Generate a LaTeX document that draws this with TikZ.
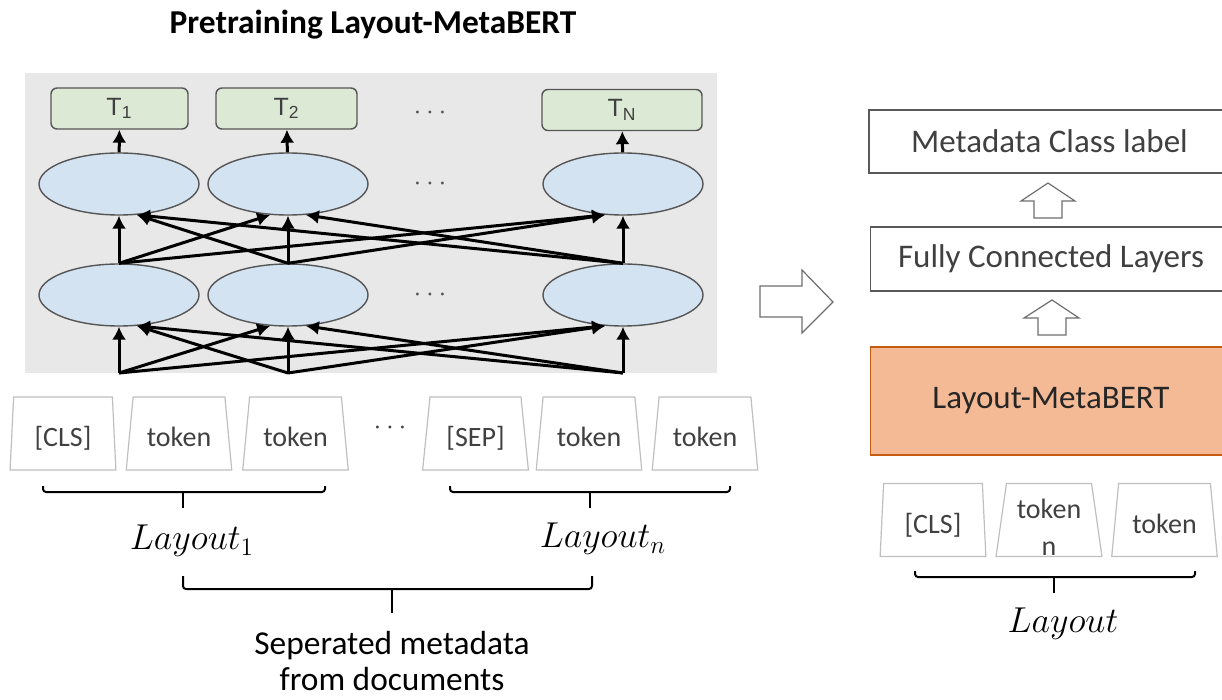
\RequirePackage{fix-cm}
\documentclass[tikz,border=0pt]{standalone}
\usepackage{fontspec}
\setmainfont{Carlito}
\newfontfamily\arialfont{Liberation Sans}
\usetikzlibrary{shapes.geometric,arrows.meta,positioning}

\definecolor{bggray}{RGB}{232,232,232}
\definecolor{outgreen}{RGB}{220,233,213}
\definecolor{encblue}{RGB}{212,227,242}
\definecolor{nodeedge}{RGB}{85,85,85}
\definecolor{tokenedge}{RGB}{191,191,191}
\definecolor{textgray}{RGB}{64,64,64}
\definecolor{boxedge}{RGB}{89,89,89}
\definecolor{bertfill}{RGB}{244,186,149}
\definecolor{bertedge}{RGB}{197,90,17}
\definecolor{hollowgray}{RGB}{110,110,110}

\begin{document}
\begin{tikzpicture}[x=0.5pt, y=-0.5pt, >={Latex[length=6.5pt,width=7pt]},
    out node/.style={rectangle, rounded corners=3pt, draw=nodeedge, fill=outgreen, line width=0.7pt,
      minimum width=68.5pt, minimum height=20.5pt, text=textgray, font=\arialfont\fontsize{12.5}{14}\selectfont},
    enc node/.style={ellipse, draw=nodeedge, fill=encblue, line width=0.7pt,
      minimum width=80pt, minimum height=31pt},
    link/.style={->, line width=1.5pt},
    dots/.style={text=nodeedge, font=\fontsize{14}{16}\selectfont},
    tok/.style={trapezium, trapezium stretches=true, trapezium angle=83, draw=tokenedge, line width=0.6pt,
      minimum width=53pt, minimum height=36.5pt, text=textgray, align=center,
      font=\fontsize{14}{18.5}\selectfont},
    tok1/.style={tok, text height=15pt, text depth=2pt},
    cls/.style={tok1, trapezium angle=87},
    layer box/.style={rectangle, draw=boxedge, line width=0.6pt, minimum width=180.5pt,
      minimum height=31.5pt, text=textgray, font=\fontsize{16.5}{20}\selectfont},
    brace/.style={line width=1pt, rounded corners=1.5pt},
    hollow/.style={draw=hollowgray, line width=0.6pt, fill=white},
    math label/.style={font=\fontsize{18}{21}\selectfont}]

  \useasboundingbox (0,0) rectangle (1222,700);

  % pretraining network
  \node[font=\bfseries\fontsize{16.7}{19}\selectfont, anchor=base] (title) at (373,34) {Pretraining Layout-MetaBERT};
  \fill[bggray] (25,73) rectangle (717,373);

  \node[out node] (t1) at (119.5,108.5) {T\textsubscript{1}};
  \node[out node, minimum width=70.5pt] (t2) at (286.5,108.5) {T\textsubscript{2}};
  \node[out node, minimum width=80pt] (tn) at (622,110) {T\textsubscript{N}};

  \node[enc node] (u1) at (119,184) {};
  \node[enc node] (u2) at (288,184) {};
  \node[enc node] (un) at (623,184) {};
  \node[enc node] (l1) at (119,295) {};
  \node[enc node] (l2) at (288,295) {};
  \node[enc node] (ln) at (623,295) {};

  \node[dots] (d1) at (430,113) {$\cdots$};
  \node[dots] (d2) at (430,184) {$\cdots$};
  \node[dots] (d3) at (430,295) {$\cdots$};

  \coordinate (b1) at (119,373);
  \coordinate (b2) at (288,373);
  \coordinate (bn) at (623,373);

  \path[link]
    (u1) edge (t1)
    (u2) edge (t2)
    (un) edge (tn)
    (l1.north) edge (u1.south)
    (l2.north) edge (u1.-60)
    (ln.north) edge (u1.-60)
    (l1.north) edge (u2.-120)
    (l2.north) edge (u2.south)
    (ln.north) edge (u2.-60)
    (l1.north) edge (un.-120)
    (l2.north) edge (un.-120)
    (ln.north) edge (un.south)
    (b1) edge (l1.south)
    (b2) edge (l1.-60)
    (bn) edge (l1.-60)
    (b1) edge (l2.-120)
    (b2) edge (l2.south)
    (bn) edge (l2.-60)
    (b1) edge (ln.-120)
    (b2) edge (ln.-120)
    (bn) edge (ln.south);

  % input tokens
  \node[cls] (c1) at (63,433.5) {[CLS]};
  \node[tok1] (k2) at (179,433.5) {token};
  \node[tok1] (k3) at (295.5,433.5) {token};
  \node[dots, text=textgray] (d4) at (390,428) {$\cdots$};
  \node[tok1] (s1) at (475.5,433.5) {[SEP]};
  \node[tok1] (k5) at (589,433.5) {token};
  \node[tok1] (k6) at (705,433.5) {token};

  \draw[brace] (43,486) -- (43,492) -- (325,492) -- (325,486);
  \draw[brace] (183,492) -- (183,508);
  \draw[brace] (450,486) -- (450,492) -- (730,492) -- (730,486);
  \draw[brace] (590,492) -- (590,508);
  \node[math label] (lay1) at (192,541) {$Layout_1$};
  \node[math label] (layn) at (603,539) {$Layout_n$};

  \draw[brace] (183,576) -- (183,589) -- (592,589) -- (592,576);
  \draw[brace] (392,589) -- (392,613);
  \node[align=center, font=\fontsize{16.7}{18}\selectfont] (sep) at (392,661) {Seperated metadata\\from documents};

  % fine-tuning
  \draw[hollow] (760,286) -- (802,286) -- (802,270) -- (833,302) -- (802,333) -- (802,317) -- (760,317) -- cycle;

  \node[layer box] (meta) at (1049.5,141.5) {Metadata Class label};
  \node[layer box, minimum height=32pt] (fc) at (1051,259) {Fully Connected Layers};
  \node[layer box, minimum height=54pt, fill=bertfill, draw=bertedge, text=black!85] (bert) at (1051,401) {Layout-MetaBERT};

  \draw[hollow] (1034,218) -- (1034,201) -- (1021,201) -- (1048,183) -- (1075,201) -- (1062,201) -- (1062,218) -- cycle;
  \draw[hollow] (1038,335) -- (1038,318) -- (1024,318) -- (1052,300) -- (1079,318) -- (1066,318) -- (1066,335) -- cycle;

  \node[cls] (rc) at (933,520) {[CLS]};
  \node[tok, label={[align=center, text=textgray, font=\fontsize{14}{18.5}\selectfont, yshift=-3.5pt]center:token\\n}] (rk) at (1049,520) {};
  \node[tok1] (rk2) at (1164.5,520) {token};

  \draw[brace] (915,571) -- (915,577) -- (1195,577) -- (1195,571);
  \draw[brace] (1054,577) -- (1054,593);
  \node[math label] (lay) at (1063,624) {$Layout$};
\end{tikzpicture}
\end{document}
